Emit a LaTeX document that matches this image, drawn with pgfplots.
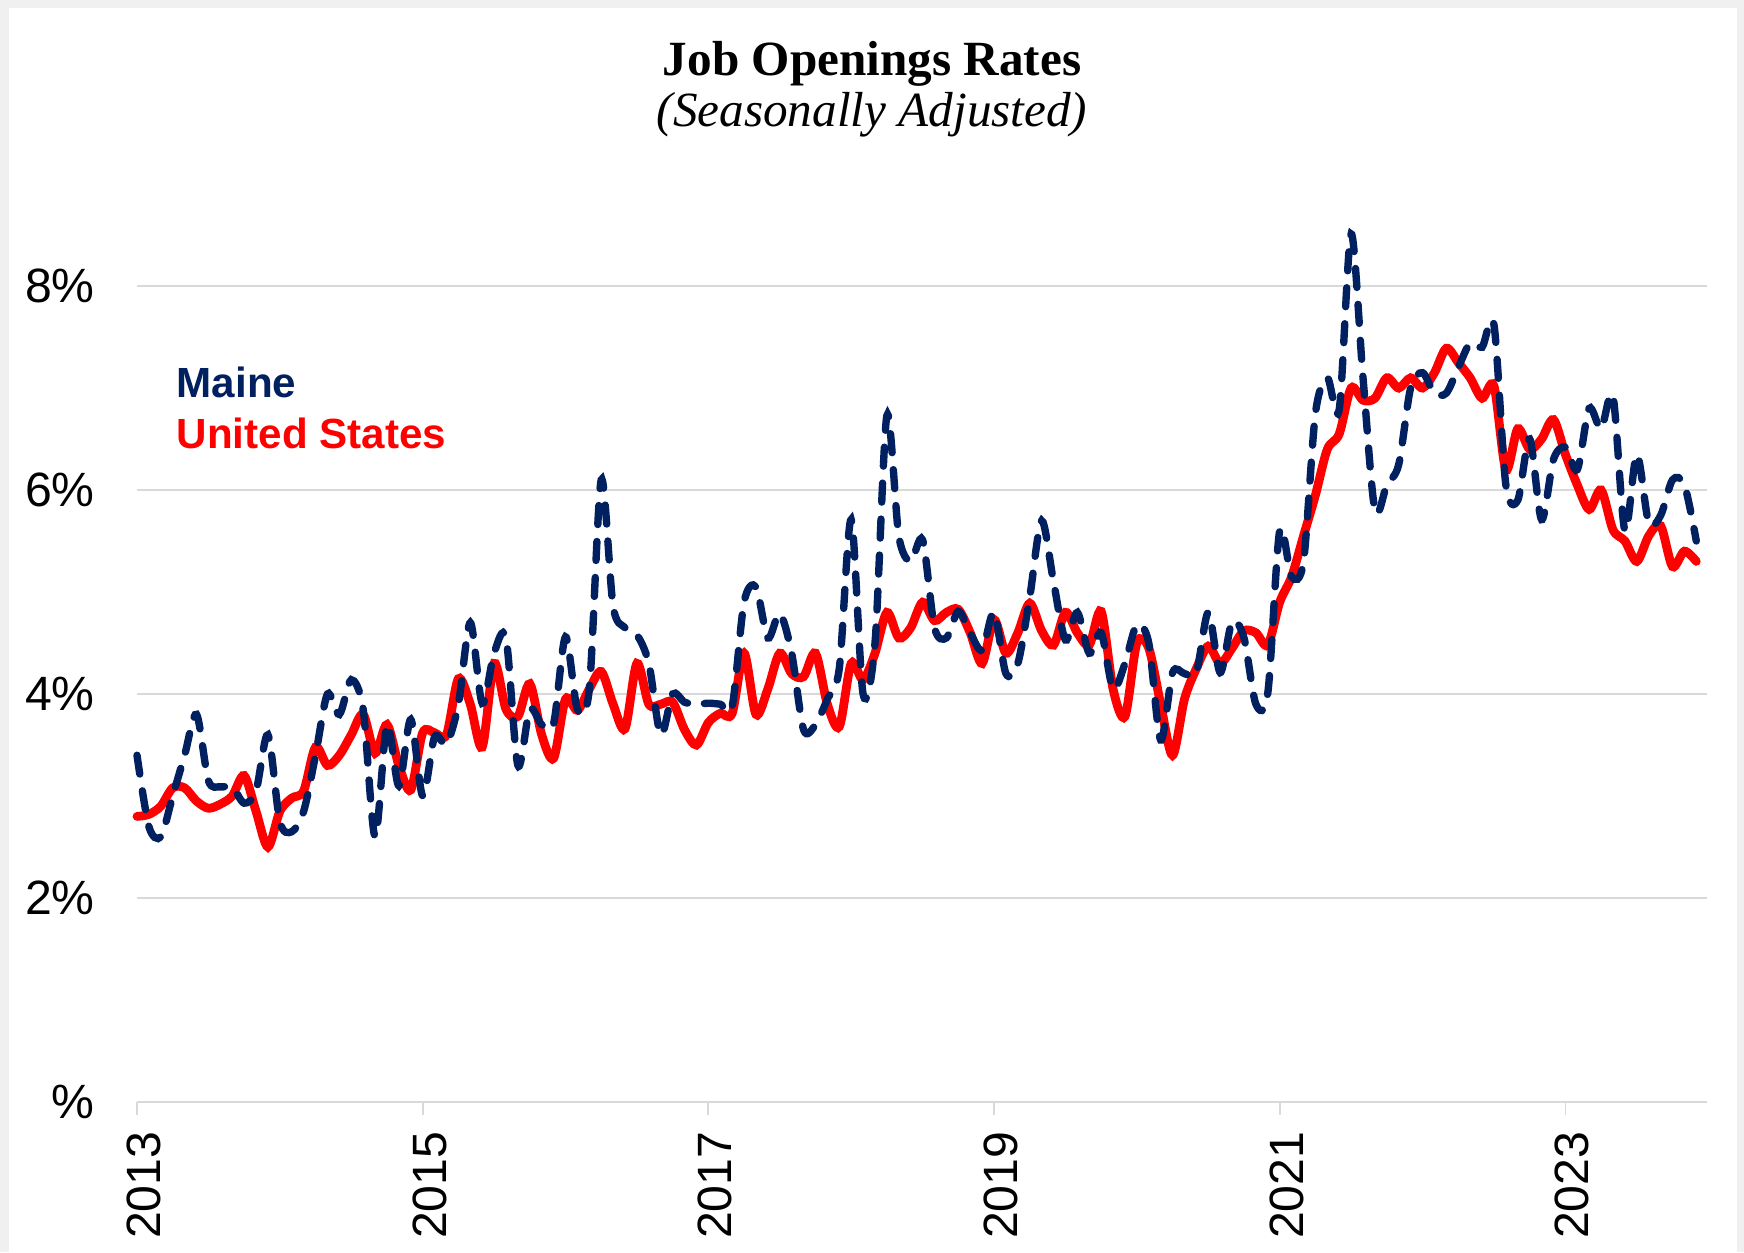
\documentclass[border=0pt]{standalone}
\usepackage{pgfplots}
\pgfplotsset{compat=1.18}
\usepackage{pgfplotstable}
\usepackage{fontspec}
\setmainfont{Liberation Sans}
\newfontfamily\titlefont{Liberation Serif}
\definecolor{navy}{HTML}{002060}
\definecolor{usred}{HTML}{FF0000}
\definecolor{gridgray}{HTML}{D9D9D9}
\definecolor{bordergray}{HTML}{F0F0F0}

\pgfplotstableread{
m us me
0 2.80 3.40
1 2.82 2.70
2 2.90 2.60
3 3.08 3.00
4 3.08 3.40
5 2.95 3.80
6 2.88 3.15
7 2.92 3.09
8 3.00 3.09
9 3.20 2.93
10 2.85 3.05
11 2.50 3.60
12 2.85 2.75
13 2.98 2.65
14 3.05 2.85
15 3.48 3.40
16 3.30 4.00
17 3.40 3.80
18 3.60 4.14
19 3.80 3.85
20 3.42 2.60
21 3.70 3.70
22 3.30 3.10
23 3.06 3.75
24 3.62 3.00
25 3.62 3.58
26 3.60 3.51
27 4.15 3.90
28 3.90 4.70
29 3.48 3.91
30 4.30 4.40
31 3.85 4.55
32 3.78 3.30
33 4.10 3.85
34 3.60 3.70
35 3.37 3.71
36 3.95 4.56
37 3.84 3.85
38 4.05 4.05
39 4.22 6.10
40 3.90 4.86
41 3.66 4.65
42 4.30 4.58
43 3.90 4.30
44 3.90 3.60
45 3.92 4.00
46 3.65 3.92
47 3.50 3.90
48 3.72 3.91
49 3.81 3.90
50 3.81 3.88
51 4.40 4.90
52 3.80 5.05
53 4.05 4.55
54 4.40 4.79
55 4.20 4.40
56 4.17 3.65
57 4.40 3.70
58 3.90 3.95
59 3.68 4.25
60 4.30 5.71
61 4.14 4.00
62 4.40 4.50
63 4.80 6.73
64 4.55 5.55
65 4.65 5.30
66 4.90 5.51
67 4.72 4.65
68 4.80 4.55
69 4.83 4.81
70 4.60 4.60
71 4.30 4.43
72 4.73 4.80
73 4.40 4.20
74 4.60 4.30
75 4.89 4.95
76 4.62 5.70
77 4.48 5.10
78 4.80 4.53
79 4.60 4.80
80 4.48 4.40
81 4.81 4.60
82 4.05 4.05
83 3.78 4.30
84 4.50 4.68
85 4.45 4.50
86 3.90 3.55
87 3.40 4.21
88 3.95 4.20
89 4.25 4.21
90 4.47 4.80
91 4.30 4.21
92 4.45 4.71
93 4.62 4.55
94 4.60 3.90
95 4.48 4.01
96 4.90 5.60
97 5.15 5.15
98 5.55 5.30
99 5.95 6.75
100 6.40 7.10
101 6.55 6.79
102 7.00 8.51
103 6.88 7.10
104 6.90 5.80
105 7.10 6.05
106 7.00 6.25
107 7.10 7.00
108 7.00 7.15
109 7.15 6.95
110 7.39 6.95
111 7.25 7.20
112 7.10 7.44
113 6.90 7.40
114 7.02 7.62
115 6.20 6.05
116 6.60 5.90
117 6.40 6.50
118 6.50 5.71
119 6.69 6.30
120 6.35 6.42
121 6.05 6.20
122 5.81 6.80
123 6.00 6.60
124 5.61 6.92
125 5.50 5.60
126 5.30 6.35
127 5.55 5.68
128 5.65 5.75
129 5.25 6.10
130 5.40 6.05
131 5.30 5.50
}\data

\begin{document}
\begin{tikzpicture}
\fill[bordergray] (0mm,0mm) rectangle (174.4mm,125.2mm);
\fill[white] (0.9mm,0mm) rectangle (173.7mm,124.4mm);
\node[anchor=base,font=\titlefont\bfseries\fontsize{14}{16}\selectfont] at (87.2mm,117.6mm) {Job Openings Rates};
\node[anchor=base,font=\titlefont\itshape\fontsize{14}{16}\selectfont] at (87.2mm,112.5mm) {(Seasonally Adjusted)};
\begin{axis}[
  at={(13.7mm,15.0mm)}, anchor=south west,
  width=157mm, height=91.8mm, scale only axis,
  xmin=0, xmax=131.9, ymin=0, ymax=9,
  axis x line*=bottom, axis y line*=left,
  x axis line style={draw=gridgray, line width=0.6pt, -},
  y axis line style={draw=none},
  xtick={0,24,48,72,96,120},
  xticklabels={2013,2015,2017,2019,2021,2023},
  ytick={0,2,4,6,8},
  yticklabels={\%,2\%,4\%,6\%,8\%},
  tick align=outside,
  xtick style={draw=gridgray, line width=0.5pt},
  major tick length=1.3mm,
  ytick style={draw=none},
  ymajorgrids,
  major grid style={draw=gridgray, line width=0.45pt},
  tick label style={font=\fontsize{13.7}{15}\selectfont},
  xticklabel style={rotate=90, anchor=east, inner sep=0pt, xshift=-1.6mm, yshift=-0.7mm},
  yticklabel style={anchor=east, inner sep=0pt, xshift=-2.85mm},
  /pgf/number format/assume math mode=true,
  clip=false,
]
\addplot[usred, line width=2.5pt, smooth, tension=0.5, line cap=round] table[x=m, y=us] {\data};
\addplot[navy, line width=2.1pt, smooth, tension=0.5, line cap=round, dash pattern=on 1.9mm off 1.7mm] table[x=m, y=me] {\data};
\end{axis}
\node[anchor=base west, font=\bfseries\fontsize{12}{14}\selectfont, text=navy, inner sep=0pt] at (17.6mm,85.4mm) {Maine};
\node[anchor=base west, font=\bfseries\fontsize{12}{14}\selectfont, text=usred, inner sep=0pt] at (17.6mm,80.4mm) {United States};
\end{tikzpicture}
\end{document}
